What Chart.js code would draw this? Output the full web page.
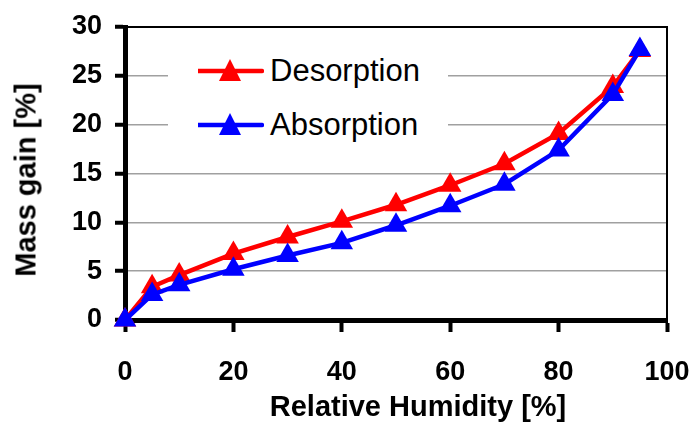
<!DOCTYPE html>
<html lang="en">

<head>
    <meta charset="UTF-8">
    <title>Mass gain vs Relative Humidity</title>
    <script src="https://cdn.jsdelivr.net/npm/chart.js"></script>
    <style>
        body {
            margin: 0;
            background: #fff;
            font-family: Arial, "Liberation Sans", sans-serif;
        }

        .wrap {
            position: relative;
            width: 692px;
            height: 422px;
        }

        .legend {
            position: absolute;
            left: 168px;
            top: 42px;
            width: 280px;
            height: 116px;
            background: #fff;
        }

        .legend-item {
            position: absolute;
            left: 30px;
            height: 34px;
            display: flex;
            align-items: center;
            font-size: 31px;
            color: #000;
        }

        .legend-item svg {
            margin-right: 6px;
        }

        .axis-title {
            position: absolute;
            font-weight: bold;
            font-size: 29px;
            color: #000;
            white-space: nowrap;
        }

        .x-title {
            left: 418px;
            top: 390px;
            transform: translateX(-50%);
        }

        .y-title {
            left: 26px;
            top: 180px;
            transform: translate(-50%, -50%) rotate(-90deg);
        }
    </style>
</head>

<body>
    <div class="wrap">
        <canvas id="chart" width="692" height="422"></canvas>
        <div class="legend" id="legend"></div>
        <div class="axis-title x-title">Relative Humidity [%]</div>
        <div class="axis-title y-title">Mass gain [%]</div>
    </div>

    <script>
        // datos
        const humidity = [0, 5, 10, 20, 30, 40, 50, 60, 70, 80, 90, 95];
        const desorption = [0, 3.4, 4.6, 6.8, 8.5, 10.1, 11.8, 13.8, 16.0, 19.1, 23.9, 27.6];
        const absorption = [0, 2.6, 3.6, 5.2, 6.6, 7.9, 9.7, 11.7, 13.9, 17.4, 23.1, 27.7];
        const xTicks = [0, 20, 40, 60, 80, 100];
        const yTicks = [0, 5, 10, 15, 20, 25, 30];

        function puntos(ys) {
            return humidity.map((x, i) => ({ x: x, y: ys[i] }));
        }

        const series = [
            { label: 'Desorption', data: desorption, color: '#ff0000', order: 1 },
            { label: 'Absorption', data: absorption, color: '#0000ff', order: 0 }
        ];

        const fuente = 'Arial, "Liberation Sans", sans-serif';

        // marco superior y derecho del área del gráfico
        const marco = {
            id: 'marco',
            beforeDatasetsDraw(chart) {
                const a = chart.chartArea;
                const ctx = chart.ctx;
                ctx.save();
                ctx.strokeStyle = '#000';
                ctx.lineWidth = 2;
                ctx.beginPath();
                ctx.moveTo(a.left, a.top);
                ctx.lineTo(a.right, a.top);
                ctx.lineTo(a.right, a.bottom);
                ctx.stroke();
                ctx.restore();
            }
        };

        const chart = new Chart(document.getElementById('chart'), {
            type: 'line',
            data: {
                datasets: series.map(s => ({
                    label: s.label,
                    data: puntos(s.data),
                    borderColor: s.color,
                    backgroundColor: s.color,
                    borderWidth: 4.5,
                    pointStyle: 'triangle',
                    pointRadius: 13,
                    pointBorderWidth: 0,
                    tension: 0,
                    clip: false,
                    order: s.order
                }))
            },
            options: {
                responsive: false,
                animation: false,
                layout: { padding: { top: 27, right: 25, left: 0, bottom: 0 } },
                plugins: {
                    legend: { display: false },
                    tooltip: { enabled: false }
                },
                scales: {
                    x: {
                        type: 'linear',
                        min: 0,
                        max: 100,
                        afterBuildTicks: s => { s.ticks = xTicks.map(v => ({ value: v })); },
                        afterFit: s => {
                            s.height = 102;
                            s.paddingLeft = 0;
                            s.paddingRight = 0;
                        },
                        border: { color: '#000', width: 5 },
                        grid: {
                            drawOnChartArea: false,
                            tickLength: 12,
                            tickColor: '#000',
                            tickWidth: 4
                        },
                        ticks: {
                            color: '#000',
                            padding: 24,
                            maxRotation: 0,
                            font: { family: fuente, size: 27, weight: 'bold' }
                        }
                    },
                    y: {
                        min: 0,
                        max: 30,
                        afterBuildTicks: s => { s.ticks = yTicks.map(v => ({ value: v })); },
                        afterFit: s => {
                            s.width = 125;
                            s.paddingTop = 0;
                            s.paddingBottom = 0;
                        },
                        border: { color: '#000', width: 5 },
                        grid: {
                            color: '#a0a0a0',
                            lineWidth: 1.5,
                            tickLength: 10,
                            tickColor: '#000',
                            tickWidth: 4
                        },
                        ticks: {
                            color: '#000',
                            padding: 13,
                            font: { family: fuente, size: 27, weight: 'bold' }
                        }
                    }
                }
            },
            plugins: [marco]
        });

        // leyenda dentro del gráfico, con fondo blanco
        const legend = document.getElementById('legend');
        series.forEach((s, i) => {
            const item = document.createElement('div');
            item.className = 'legend-item';
            item.style.top = (12 + i * 54) + 'px';
            item.innerHTML =
                '<svg width="66" height="26" viewBox="0 0 66 26">' +
                '<line x1="0" y1="13" x2="64" y2="13" stroke="' + s.color + '" stroke-width="4.5" stroke-linecap="round"/>' +
                '<polygon points="32,1 43,23 21,23" fill="' + s.color + '"/></svg>' +
                '<span>' + s.label + '</span>';
            legend.appendChild(item);
        });
    </script>
</body>

</html>
